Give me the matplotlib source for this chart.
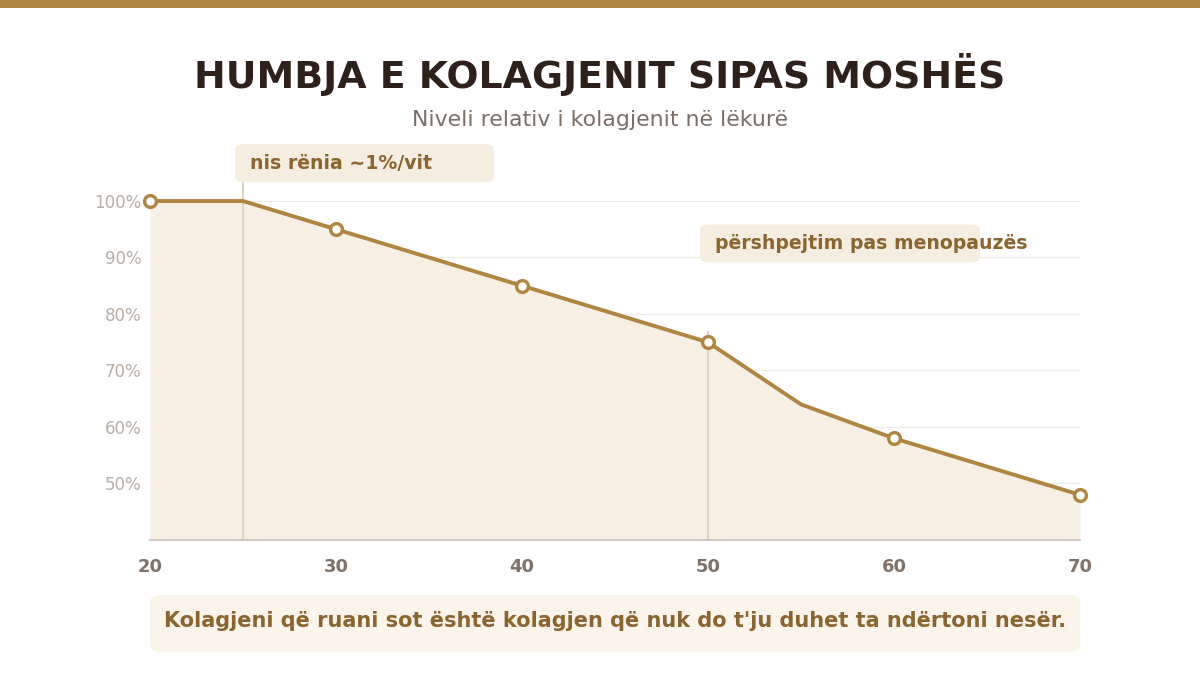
import matplotlib
matplotlib.use("Agg")
import matplotlib.pyplot as plt
from matplotlib.patches import FancyBboxPatch, Rectangle

plt.rcParams['font.family'] = ['DejaVu Sans']

# Data
ages = [20, 25, 30, 40, 50, 55, 60, 70]
collagen = [100, 100, 95, 85, 75, 64, 58, 48]
marker_ages = [20, 30, 40, 50, 60, 70]
marker_vals = [100, 95, 85, 75, 58, 48]
x_ticks = [20, 30, 40, 50, 60, 70]
y_ticks = [50, 60, 70, 80, 90, 100]
y_tick_labels = ['50%', '60%', '70%', '80%', '90%', '100%']
note_ages = [25, 50]
note_texts = ['nis rënia ~1%/vit', 'përshpejtim pas menopauzës']

title = 'HUMBJA E KOLAGJENIT SIPAS MOSHËS'
subtitle = 'Niveli relativ i kolagjenit në lëkurë'
footer = "Kolagjeni që ruani sot është kolagjen që nuk do t'ju duhet ta ndërtoni nesër."

GOLD = '#B08441'
TEXT_GOLD = '#8A6530'
FILL = '#F7EFE3'
BOX = '#F5EDE0'

fig = plt.figure(figsize=(12, 6.75), dpi=100)
fig.patch.set_facecolor('white')

# top band
fig.patches.append(Rectangle((0, 1 - 8 / 675), 1, 8 / 675, transform=fig.transFigure,
                             facecolor=GOLD, edgecolor='none'))

fig.text(0.5, 1 - 75 / 675, title, ha='center', va='center', fontsize=27.3,
         fontweight='bold', color='#2E211C')
fig.text(0.5, 1 - 120 / 675, subtitle, ha='center', va='center', fontsize=15.8,
         color='#7A6E66')

ax = fig.add_axes([150 / 1200, 135 / 675, 930 / 1200, 339 / 675])
ax.set_xlim(20, 70)
ax.set_ylim(40, 100)

ax.fill_between(ages, collagen, 40, color=FILL, zorder=1, linewidth=0)
ax.plot(ages, collagen, color=GOLD, linewidth=2.8, zorder=3, clip_on=False,
        solid_joinstyle='round')
ax.plot(marker_ages, marker_vals, 'o', markersize=8.5, markerfacecolor='white',
        markeredgecolor=GOLD, markeredgewidth=2.4, zorder=4, clip_on=False)

# vertical guide lines
ax.plot([note_ages[0], note_ages[0]], [40, 103.4], color='#DDD3C3', linewidth=1.5,
        zorder=2, clip_on=False)
ax.plot([note_ages[1], note_ages[1]], [40, 76.8], color='#DDD3C3', linewidth=1.5,
        zorder=2, clip_on=False)

ax.set_yticks(y_ticks)
ax.set_yticklabels(y_tick_labels)
ax.set_xticks(x_ticks)
ax.set_xticklabels([str(t) for t in x_ticks], fontweight='bold')
ax.tick_params(axis='y', length=0, pad=6, labelsize=12, labelcolor='#B8AEA5')
ax.tick_params(axis='x', length=0, pad=13, labelsize=13, labelcolor='#7E7269')
ax.grid(axis='y', color='#EEEAE6', linewidth=0.9, zorder=0)
ax.set_axisbelow(True)
for s in ['top', 'right', 'left']:
    ax.spines[s].set_visible(False)
ax.spines['bottom'].set_color('#D5CBC2')
ax.spines['bottom'].set_linewidth(1.5)
ax.spines['bottom'].set_zorder(5)

# annotation boxes (positioned from data coordinates)
note_levels = [106.7, 92.5]
box_widths = [259, 280]
fig.canvas.draw()
for age, level, w, txt in zip(note_ages, note_levels, box_widths, note_texts):
    px, py = ax.transData.transform((age, level))
    fig.patches.append(FancyBboxPatch(((px - 8) / 1200, (py - 19) / 675), w / 1200, 38 / 675,
                                      boxstyle='round,pad=0,rounding_size=0.008',
                                      transform=fig.transFigure, facecolor=BOX,
                                      edgecolor='none', zorder=1))
    fig.text((px + 7) / 1200, py / 675, txt, ha='left', va='center', fontsize=13.6,
             fontweight='bold', color=TEXT_GOLD, zorder=2)

# footer box
fig.patches.append(FancyBboxPatch((150 / 1200, 1 - 652 / 675), 930 / 1200, 57 / 675,
                                  boxstyle='round,pad=0,rounding_size=0.01',
                                  transform=fig.transFigure, facecolor='#FAF4EA',
                                  edgecolor='none'))
fig.text(615 / 1200, 1 - 621 / 675, footer, ha='center', va='center', fontsize=15,
         fontweight='bold', color=TEXT_GOLD)

fig.savefig('out.png', dpi=100)
